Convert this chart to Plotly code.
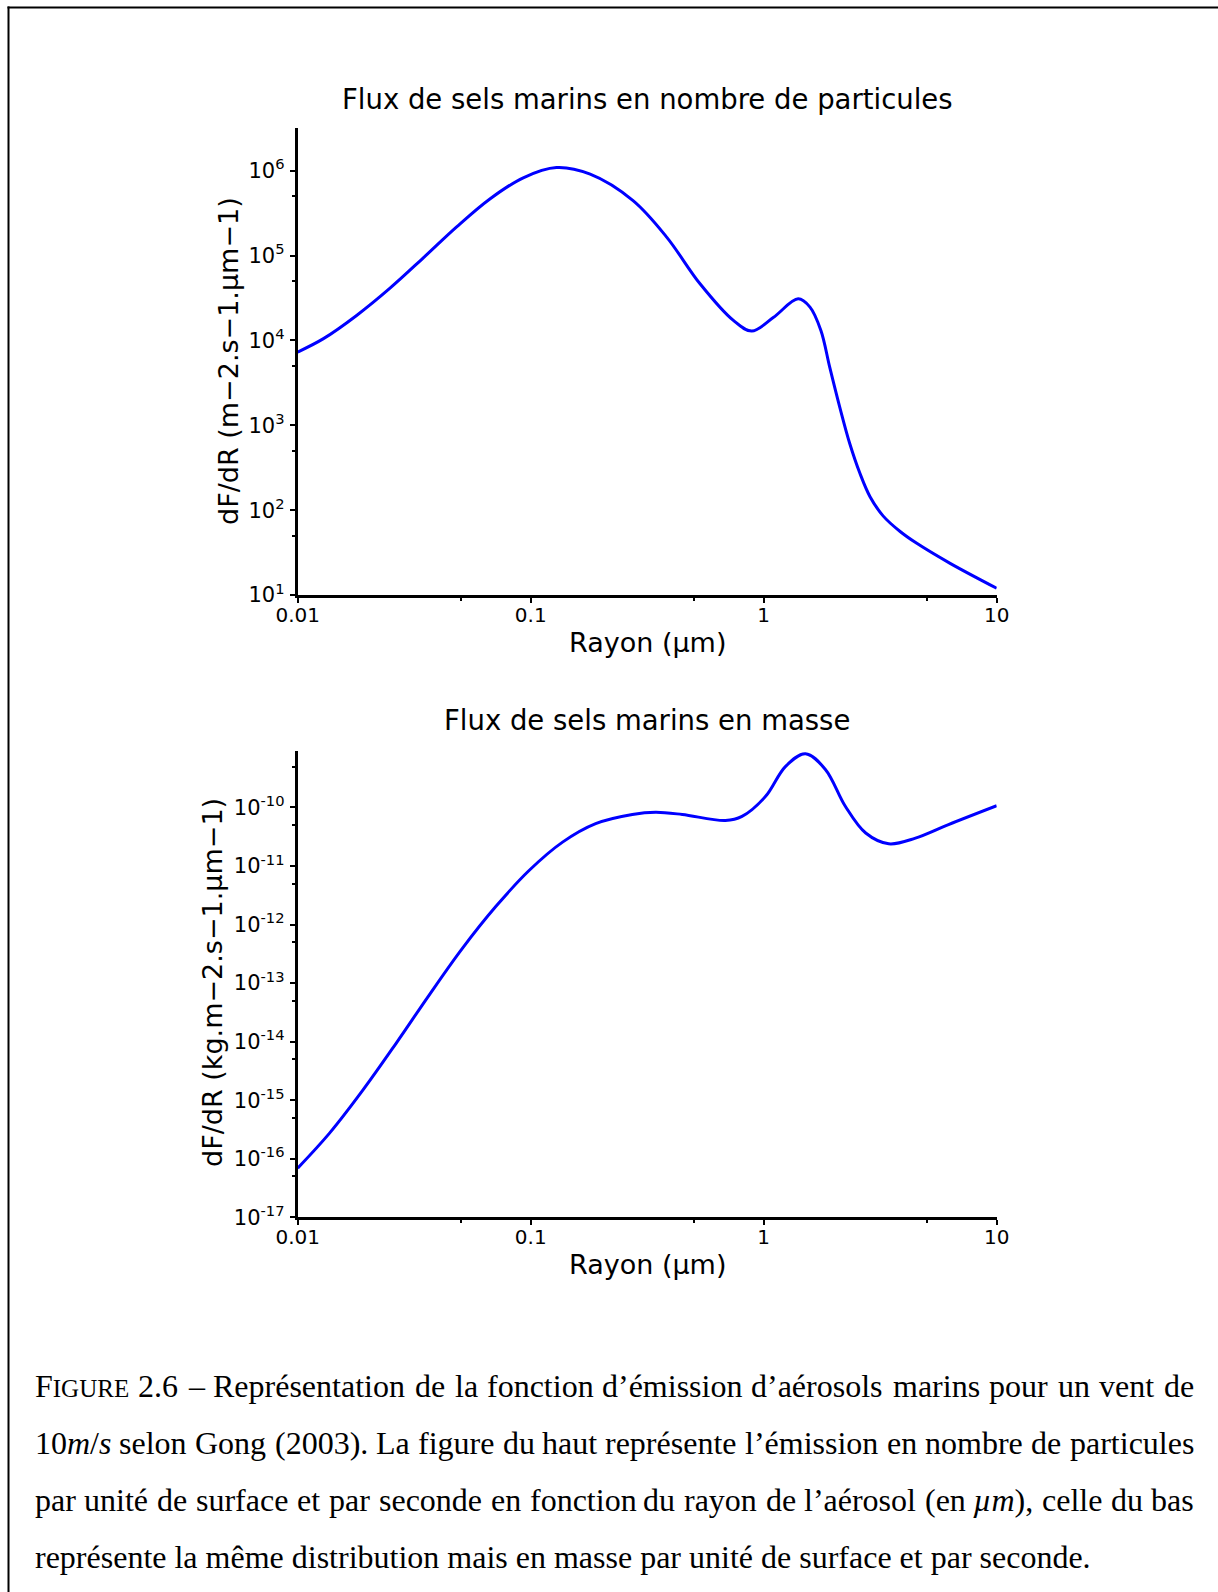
import re
import plotly.graph_objects as go

W, H = 1218, 1592

# ---- Data ----
radius_number = [0.01, 0.0129, 0.0179, 0.0249, 0.0346, 0.0481, 0.0668, 0.0929, 0.129, 0.180,
                 0.275, 0.384, 0.533, 0.741, 0.889, 1.099, 1.406, 1.58, 1.76, 1.92,
                 2.12, 2.34, 2.59, 2.86, 3.26, 3.85, 4.54, 6.31, 10.0]
flux_number = [7.3e3, 1.05e4, 1.97e4, 4.13e4, 9.4e4, 2.18e5, 4.65e5, 8.26e5, 1.09e6, 9.1e5,
               4.44e5, 1.64e5, 4.65e4, 1.72e4, 1.29e4, 1.86e4, 3.09e4, 2.47e4, 1.31e4, 4.85e3,
               1.64e3, 6.1e2, 2.7e2, 1.44e2, 8.5e1, 5.6e1, 4.06e1, 2.36e1, 1.2e1]

radius_mass = [0.01, 0.0137, 0.0190, 0.0264, 0.0366, 0.0509, 0.0708, 0.0984, 0.137, 0.190,
               0.273, 0.344, 0.447, 0.685, 0.807, 1.019, 1.239, 1.51, 1.84, 2.24,
               2.74, 3.44, 4.48, 6.21, 10.0]
flux_mass = [6.9e-17, 2.74e-16, 1.47e-15, 9.29e-15, 6.19e-14, 3.92e-13, 2.03e-12, 8.38e-12, 2.56e-11, 5.3e-11,
             7.6e-11, 8.3e-11, 7.6e-11, 6.0e-11, 7.05e-11, 1.55e-10, 5.0e-10, 8.3e-10, 4.47e-10, 1.05e-10,
             3.66e-11, 2.4e-11, 3.0e-11, 5.1e-11, 1.07e-10]

x_tickvals = [0.01, 0.1, 1, 10]
x_ticktext = ["0.01", "0.1", "1", "10"]
x_minor = [0.05, 0.5, 5]

y1_exponents = [1, 2, 3, 4, 5, 6]
y1_minor = [5e1, 5e2, 5e3, 5e4, 5e5]
y2_exponents = [-17, -16, -15, -14, -13, -12, -11, -10]
y2_minor = [5e-17, 5e-16, 5e-15, 5e-14, 5e-13, 5e-12, 5e-11, 5e-10]

title_top = "Flux de sels marins en nombre de particules"
title_bottom = "Flux de sels marins en masse"
xlabel = "Rayon (µm)"
ylabel_top = "dF/dR (m−2.s−1.µm−1)"
ylabel_bottom = "dF/dR (kg.m−2.s−1.µm−1)"

caption_lines = [
    "F<sc>IGURE</sc> 2.6 – Représentation de la fonction d’émission d’aérosols marins pour un vent de",
    "10<i>m</i>/<i>s</i> selon Gong (2003). La figure du haut représente l’émission en nombre de particules",
    "par unité de surface et par seconde en fonction du rayon de l’aérosol (en <i>µm</i>), celle du bas",
    "représente la même distribution mais en masse par unité de surface et par seconde.",
]
caption_justified = [True, True, True, False]

# ---- helpers: pixel -> paper ----
def px(x):
    return x / W

def py(y):
    return 1 - y / H

SANS = "DejaVu Sans"
SERIF = "Liberation Serif"
BLUE = "#0000ff"
CAP_SIZE = 32
SC_SIZE = 25

# Times / Liberation Serif advance widths (1/1000 em) used to justify the caption
ROMAN = {' ': 250, 'a': 444, 'b': 500, 'c': 444, 'd': 500, 'e': 444, 'é': 444, 'ê': 444, 'f': 333,
         'g': 500, 'h': 500, 'i': 278, 'j': 278, 'k': 500, 'l': 278, 'm': 778, 'n': 500, 'o': 500,
         'p': 500, 'q': 500, 'r': 333, 's': 389, 't': 278, 'u': 500, 'v': 500, 'w': 722, 'x': 500,
         'y': 500, 'z': 444, 'F': 556, 'G': 722, 'L': 611, 'R': 667, 'I': 333, 'U': 722, 'E': 611,
         '.': 250, ',': 250, '(': 333, ')': 333, '/': 278, '–': 500, '’': 333}
ITALIC = {'m': 722, 's': 389, 'µ': 500}

def word_width(word):
    total = 0.0
    italic = False
    sc = False
    for tok in re.split(r'(</?i>|</?sc>)', word):
        if tok == '<i>':
            italic = True
        elif tok == '</i>':
            italic = False
        elif tok == '<sc>':
            sc = True
        elif tok == '</sc>':
            sc = False
        else:
            for ch in tok:
                if ch.isdigit():
                    w = 500
                elif italic:
                    w = ITALIC.get(ch, ROMAN.get(ch, 500))
                else:
                    w = ROMAN.get(ch, 500)
                total += w / 1000.0 * (SC_SIZE if sc else CAP_SIZE)
    return total

def to_plotly(word):
    return word.replace('<sc>', "<span style='font-size:%dpx'>" % SC_SIZE).replace('</sc>', '</span>')

fig = go.Figure()

fig.add_trace(go.Scatter(x=radius_number, y=flux_number, mode="lines",
                         line=dict(color=BLUE, width=3, shape="spline", smoothing=1.0),
                         xaxis="x", yaxis="y", showlegend=False, hoverinfo="x+y"))
fig.add_trace(go.Scatter(x=radius_mass, y=flux_mass, mode="lines",
                         line=dict(color=BLUE, width=3, shape="spline", smoothing=1.0),
                         xaxis="x2", yaxis="y2", showlegend=False, hoverinfo="x+y"))

xdom = [px(297.7), px(996.7)]
axis_common = dict(type="log", showline=True, linecolor="black", linewidth=3,
                   ticks="outside", ticklen=5, tickwidth=2, tickcolor="black",
                   showgrid=False, zeroline=False, mirror=False, automargin=False)
xfont = dict(family=SANS, size=20, color="black")
yfont = dict(family=SANS, size=21, color="black")
minor_style = dict(ticks="outside", ticklen=3, tickwidth=2, tickcolor="black", showgrid=False)

fig.update_layout(
    width=W, height=H, autosize=False,
    margin=dict(l=0, r=0, t=0, b=0, pad=0, autoexpand=False),
    paper_bgcolor="white", plot_bgcolor="white",
    xaxis=dict(domain=xdom, anchor="y", range=[-2, 1], tickvals=x_tickvals, ticktext=x_ticktext,
               tickfont=xfont, ticklabelstandoff=-5,
               minor=dict(tickvals=x_minor, **minor_style), **axis_common),
    yaxis=dict(domain=[py(595), py(128.3)], anchor="x", range=[1, 6.5],
               tickvals=[10 ** e for e in y1_exponents],
               ticktext=["10<sup>%d</sup>" % e for e in y1_exponents],
               tickfont=yfont, ticklabelstandoff=1,
               minor=dict(tickvals=y1_minor, **minor_style), **axis_common),
    xaxis2=dict(domain=xdom, anchor="y2", range=[-2, 1], tickvals=x_tickvals, ticktext=x_ticktext,
                tickfont=xfont, ticklabelstandoff=-5,
                minor=dict(tickvals=x_minor, **minor_style), **axis_common),
    yaxis2=dict(domain=[py(1217.3), py(750.7)], anchor="x2", range=[-17, -9.03],
                tickvals=[10.0 ** e for e in y2_exponents],
                ticktext=["10<sup>%d</sup>" % e for e in y2_exponents],
                tickfont=yfont, ticklabelstandoff=1,
                minor=dict(tickvals=y2_minor, **minor_style), **axis_common),
)

annotations = []

def add_text(text, x, y, size, family=SANS, angle=0, xanchor="center", yanchor="middle"):
    annotations.append(dict(text=text, x=px(x), y=py(y), xref="paper", yref="paper",
                            showarrow=False, textangle=angle, xanchor=xanchor, yanchor=yanchor,
                            borderpad=0, font=dict(family=family, size=size, color="black")))

add_text(title_top, 647.5, 98.5, 27.5)
add_text(title_bottom, 646.5, 720.5, 27.5)
add_text(xlabel, 647.5, 642.5, 27)
add_text(xlabel, 647.5, 1264.5, 27)
add_text(ylabel_top, 229, 361, 27, angle=-90)
add_text(ylabel_bottom, 212, 983, 27, angle=-90)

# caption, justified between x = 33.5 and x = 1195
CAP_LEFT, CAP_RIGHT = 33.5, 1195
baselines = [1396, 1453, 1510, 1567]
for line, just, b in zip(caption_lines, caption_justified, baselines):
    yc = b - 10
    if not just:
        add_text(to_plotly(line), CAP_LEFT, yc, CAP_SIZE, family=SERIF, xanchor="left")
        continue
    words = line.split(" ")
    widths = [word_width(w) for w in words]
    gap = (CAP_RIGHT - CAP_LEFT - sum(widths)) / (len(words) - 1)
    half = len(words) // 2
    x = CAP_LEFT
    for w, wd in zip(words[:half], widths[:half]):
        add_text(to_plotly(w), x, yc, CAP_SIZE, family=SERIF, xanchor="left")
        x += wd + gap
    x = CAP_RIGHT
    for w, wd in zip(reversed(words[half:]), reversed(widths[half:])):
        add_text(to_plotly(w), x, yc, CAP_SIZE, family=SERIF, xanchor="right")
        x -= wd + gap

fig.update_layout(annotations=annotations)

# page frame: top and left rule
fig.add_shape(type="line", xref="paper", yref="paper", x0=px(7.5), x1=1, y0=py(7.5), y1=py(7.5),
              line=dict(color="black", width=2))
fig.add_shape(type="line", xref="paper", yref="paper", x0=px(8.5), x1=px(8.5), y0=py(6.5), y1=0,
              line=dict(color="black", width=2))

fig.write_html("out.html")
